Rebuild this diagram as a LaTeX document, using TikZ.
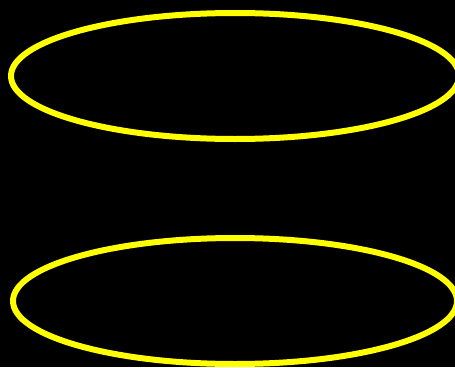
\documentclass[tikz,border=0pt]{standalone}
\usetikzlibrary{%
    positioning,%
    shapes.geometric
    }
\definecolor{myyellow1}{RGB}{255,255,0}
\tikzset{
  ring2/.style={
    ellipse, 
    minimum width=448pt, 
    minimum height=126pt,
    inner sep=0pt,
    line width=6pt,
    draw=myyellow1, 
  },  
}
\begin{document}
\begin{tikzpicture}[x=1pt,y=-1pt]
\fill[black] (0,0) rectangle (455,367);
\useasboundingbox (0,0) rectangle (455,367);
\node[ring2] 
  (top) 
  at (235,76)
  {};
\node[ring2,minimum width=444pt] 
  (bottom) 
  at (235,301)
  {};
\end{tikzpicture}
\end{document}
